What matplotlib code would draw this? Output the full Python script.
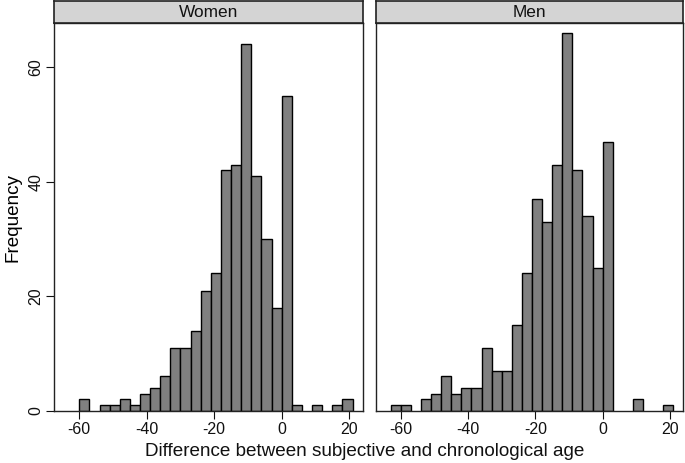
import numpy as np
import matplotlib
matplotlib.use("Agg")
import matplotlib.pyplot as plt

plt.rcParams['font.family'] = ['Liberation Sans', 'DejaVu Sans']
plt.rcParams['axes.unicode_minus'] = False

# bin left edges (width 3) and counts per panel
bin_width = 3
bin_left = [-63, -60, -57, -54, -51, -48, -45, -42, -39, -36, -33, -30, -27, -24,
            -21, -18, -15, -12, -9, -6, -3, 0, 3, 6, 9, 12, 15, 18]
women_counts = [0, 2, 0, 1, 1, 2, 1, 3, 4, 6, 11, 11, 14, 21,
                24, 42, 43, 64, 41, 30, 18, 55, 1, 0, 1, 0, 1, 2]
men_counts = [1, 1, 0, 2, 3, 6, 3, 4, 4, 11, 7, 7, 15, 24,
              37, 33, 43, 66, 42, 34, 25, 47, 0, 0, 2, 0, 0, 1]
panels = ["Women", "Men"]
x_ticks = [-60, -40, -20, 0, 20]
y_ticks = [0, 20, 40, 60]

W, H = 685, 463
fig = plt.figure(figsize=(W / 100, H / 100), dpi=100)

# pixel boxes of the two plot regions: (left, right)
boxes = [(54.3, 362.7), (376.0, 683.3)]
top_px, base_px, head_px = 23.3, 410.7, 1.0

for i, (name, counts) in enumerate(zip(panels, [women_counts, men_counts])):
    l, r = boxes[i]
    ax = fig.add_axes([l / W, 1 - base_px / H, (r - l) / W, (base_px - top_px) / H])
    xs = [x for x, c in zip(bin_left, counts) if c > 0]
    hs = [c for c in counts if c > 0]
    ax.bar(xs, hs, width=bin_width, align='edge', color='#808080',
           edgecolor='black', linewidth=1.0)
    ax.set_xlim(-67.4, 24.0)
    ax.set_ylim(0, 67.7)
    ax.set_xticks(x_ticks)
    ax.tick_params(axis='x', length=6, width=0.8, labelsize=11.5, pad=2, colors='#111111')
    if i == 0:
        ax.set_yticks(y_ticks)
        ax.set_yticklabels([str(v) for v in y_ticks], rotation=90, va='center')
        ax.tick_params(axis='y', length=6, width=0.8, labelsize=11.5, pad=2, colors='#111111')
        ax.set_ylabel("Frequency", fontsize=13.6, labelpad=5)
    else:
        ax.set_yticks([])
    for s in ax.spines.values():
        s.set_linewidth(1.0)
        s.set_color('#222222')

    # strip header
    hax = fig.add_axes([l / W, 1 - top_px / H, (r - l) / W, (top_px - head_px) / H])
    hax.set_xticks([])
    hax.set_yticks([])
    hax.set_facecolor('#d4d4d4')
    for s in hax.spines.values():
        s.set_linewidth(1.2)
        s.set_color('#222222')
    hax.text(0.5, 0.5, name, ha='center', va='center', fontsize=12.4,
             transform=hax.transAxes, color='#111111')

fig.text(365 / W, 1 - 452 / H, "Difference between subjective and chronological age",
         ha='center', va='center', fontsize=13.6, color='#111111')

fig.savefig("out.png", dpi=100, facecolor='white')
